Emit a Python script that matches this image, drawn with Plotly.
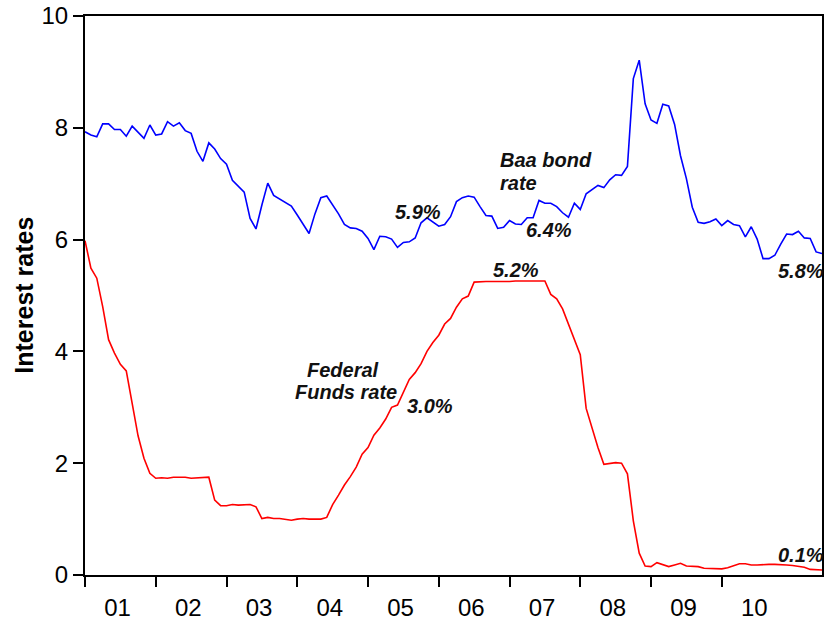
import plotly.graph_objects as go

# Monthly data, 2001M01 - 2011M06
baa = [
    7.93, 7.87, 7.84, 8.07, 8.07, 7.97, 7.97, 7.85, 8.03, 7.91, 7.81, 8.05,
    7.87, 7.89, 8.11, 8.03, 8.09, 7.95, 7.90, 7.58, 7.40, 7.73, 7.62, 7.45,
    7.35, 7.06, 6.95, 6.85, 6.38, 6.19, 6.62, 7.01, 6.79, 6.73, 6.66, 6.60,
    6.44, 6.27, 6.11, 6.46, 6.75, 6.78, 6.62, 6.46, 6.27, 6.21, 6.20, 6.15,
    6.02, 5.82, 6.06, 6.05, 6.01, 5.86, 5.95, 5.96, 6.03, 6.30, 6.39, 6.32,
    6.24, 6.27, 6.41, 6.68, 6.75, 6.78, 6.76, 6.59, 6.43, 6.42, 6.20, 6.22,
    6.34, 6.28, 6.27, 6.39, 6.39, 6.70, 6.65, 6.65, 6.59, 6.48, 6.40, 6.65,
    6.54, 6.82, 6.89, 6.97, 6.93, 7.07, 7.16, 7.15, 7.31, 8.88, 9.21, 8.43,
    8.14, 8.08, 8.42, 8.39, 8.06, 7.50, 7.09, 6.58, 6.31, 6.29, 6.32, 6.37,
    6.25, 6.34, 6.27, 6.25, 6.05, 6.23, 6.01, 5.66, 5.66, 5.72, 5.92, 6.10,
    6.09, 6.15, 6.03, 6.02, 5.78, 5.75,
]
fedfunds = [
    5.98, 5.49, 5.31, 4.80, 4.21, 3.97, 3.77, 3.65, 3.07, 2.49, 2.09, 1.82,
    1.73, 1.74, 1.73, 1.75, 1.75, 1.75, 1.73, 1.74, 1.75, 1.75, 1.34, 1.24,
    1.24, 1.26, 1.25, 1.26, 1.26, 1.22, 1.01, 1.03, 1.01, 1.01, 1.00, 0.98,
    1.00, 1.01, 1.00, 1.00, 1.00, 1.03, 1.26, 1.43, 1.61, 1.76, 1.93, 2.16,
    2.28, 2.50, 2.63, 2.79, 3.00, 3.04, 3.26, 3.50, 3.62, 3.78, 4.00, 4.16,
    4.29, 4.49, 4.59, 4.79, 4.94, 4.99, 5.24, 5.25, 5.25, 5.25, 5.25, 5.24,
    5.25, 5.26, 5.26, 5.25, 5.25, 5.25, 5.26, 5.02, 4.94, 4.76, 4.49, 4.24,
    3.94, 2.98, 2.61, 2.28, 1.98, 2.00, 2.01, 2.00, 1.81, 0.97, 0.39, 0.16,
    0.15, 0.22, 0.18, 0.15, 0.18, 0.21, 0.16, 0.16, 0.15, 0.12, 0.12, 0.12,
    0.11, 0.13, 0.16, 0.20, 0.20, 0.18, 0.18, 0.19, 0.19, 0.19, 0.19, 0.18,
    0.17, 0.16, 0.14, 0.10, 0.09, 0.09,
]
start_year = 2001
years = list(range(2001, 2011))
year_labels = ["01", "02", "03", "04", "05", "06", "07", "08", "09", "10"]

x = [start_year + i / 12 for i in range(len(baa))]
x_end = start_year + (len(baa) - 1) / 12

fig = go.Figure()
fig.add_trace(go.Scatter(x=x, y=baa, mode="lines", line=dict(color="#0000FF", width=1.6),
                         name="Baa bond rate", hoverinfo="skip"))
fig.add_trace(go.Scatter(x=x, y=fedfunds, mode="lines", line=dict(color="#FF0000", width=1.6),
                         name="Federal Funds rate", hoverinfo="skip"))

font_family = "Liberation Sans, Arial, sans-serif"

def note(text, xv, yv, xanchor="center"):
    fig.add_annotation(x=xv, y=yv, xref="x", yref="y", text="<b><i>" + text + "</i></b>",
                       showarrow=False, xanchor=xanchor, yanchor="middle",
                       font=dict(family=font_family, size=20, color="#111111"))

note("Federal", 2004.648, 3.66)
note("Funds rate", 2004.690, 3.27)
note("3.0%", 2005.873, 3.03)
note("Baa bond", 2006.831, 7.43, "left")
note("rate", 2006.831, 7.02, "left")
note("5.9%", 2005.711, 6.50)
note("6.4%", 2007.563, 6.18)
note("5.2%", 2007.085, 5.46)
note("5.8%", 2010.761, 5.44, "left")
note("0.1%", 2010.761, 0.36, "left")

fig.add_annotation(x=(23 - 85) / 739, y=0.5, xref="paper", yref="paper",
                   text="<b>Interest rates</b>", textangle=-90, showarrow=False,
                   xanchor="center", yanchor="middle",
                   font=dict(family=font_family, size=25, color="#000000"))

fig.update_layout(
    width=825, height=622,
    margin=dict(l=85, r=1, t=16, b=45),
    paper_bgcolor="white", plot_bgcolor="white",
    showlegend=False,
    font=dict(family=font_family, size=24, color="#000000"),
)
fig.update_xaxes(
    range=[start_year, x_end],
    tickvals=[y + 0.46 for y in years], ticktext=year_labels,
    ticks="outside", ticklen=10, tickcolor="rgba(0,0,0,0)",
    showline=True, linecolor="#000000", linewidth=2, mirror=True,
    showgrid=False, zeroline=False,
    minor=dict(tickvals=years, ticks="outside", ticklen=10, tickcolor="#000000", tickwidth=1.5, showgrid=False),
    tickfont=dict(size=24),
)
fig.update_yaxes(
    range=[0, 10], tickvals=[0, 2, 4, 6, 8, 10],
    ticks="outside", ticklen=10, tickcolor="#000000", tickwidth=1.5,
    showline=True, linecolor="#000000", linewidth=2, mirror=True,
    showgrid=False, zeroline=False,
    tickfont=dict(size=24),
)

fig.write_html("out.html", config={"displayModeBar": False},
               post_script="document.body.style.margin='0';document.body.style.padding='0';")
